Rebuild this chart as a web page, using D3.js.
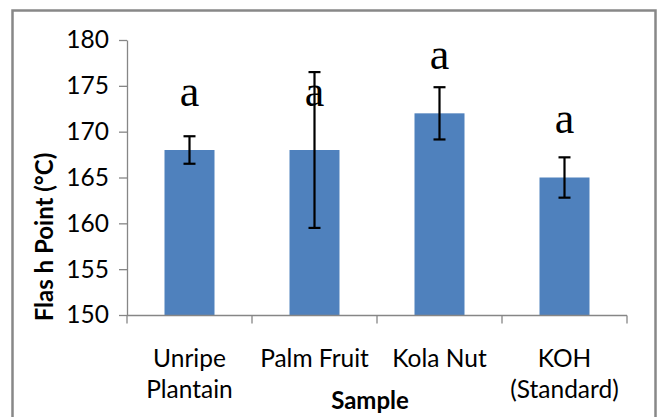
<!DOCTYPE html>
<html>
<head>
<meta charset="utf-8">
<script src="https://cdn.jsdelivr.net/npm/d3@7"></script>
<style>
  html, body { margin: 0; padding: 0; background: #fff; }
  svg { display: block; }
</style>
</head>
<body>
<svg id="chart" width="661" height="417"></svg>
<script>
// Flash point of the biodiesel samples, mean ± error
const categories = [["Unripe", "Plantain"], ["Palm Fruit"], ["Kola Nut"], ["KOH", "(Standard)"]];
const means = [168, 168, 172, 165];
const errors = [1.5, 8.5, 2.85, 2.2];
const letters = ["a", "a", "a", "a"];
const letterLevels = [172.8, 172.8, 176.8, 169.9];
const yTicks = [150, 155, 160, 165, 170, 175, 180];

const svg = d3.select("#chart");
const axisColor = "#868686";
const labelFont = "Lato, 'Open Sans', sans-serif";

// chart frame
svg.append("rect")
  .attr("x", 12.5).attr("y", 10.5)
  .attr("width", 643).attr("height", 430)
  .attr("fill", "#fff")
  .attr("stroke", "#888")
  .attr("stroke-width", 2.5);

const plot = { left: 127, right: 627, top: 40, bottom: 315 };

const x = d3.scaleBand()
  .domain(d3.range(categories.length))
  .range([plot.left, plot.right])
  .paddingInner(0.6)
  .paddingOuter(0.3);

const xBand = d3.scaleBand()
  .domain(d3.range(categories.length))
  .range([plot.left, plot.right]);

const y = d3.scaleLinear().domain([150, 180]).range([plot.bottom, plot.top]);

// bars
svg.append("g").selectAll("rect")
  .data(means)
  .join("rect")
  .attr("x", (d, i) => x(i))
  .attr("width", x.bandwidth())
  .attr("y", d => y(d))
  .attr("height", d => y(150) - y(d))
  .attr("fill", "#4f81bd");

// y axis
const yAxis = svg.append("g")
  .attr("transform", `translate(${plot.left},0)`)
  .call(d3.axisLeft(y).tickValues(yTicks).tickSize(8).tickPadding(10).tickSizeOuter(0));
yAxis.select(".domain").attr("stroke", axisColor).attr("stroke-width", 1.3);
yAxis.selectAll(".tick line").attr("stroke", axisColor).attr("stroke-width", 1.3);
yAxis.selectAll(".tick text")
  .attr("fill", "#000")
  .style("font-family", labelFont)
  .style("font-size", "24.5px");

// x axis with ticks between categories
const xAxis = svg.append("g")
  .attr("transform", `translate(0,${plot.bottom + 0.5})`);
xAxis.append("line")
  .attr("x1", plot.left).attr("x2", plot.right)
  .attr("stroke", axisColor).attr("stroke-width", 1.3);
const edges = d3.range(categories.length + 1).map(i => i < categories.length ? xBand(i) : plot.right);
xAxis.selectAll("line.tk")
  .data(edges)
  .join("line")
  .attr("class", "tk")
  .attr("x1", d => d).attr("x2", d => d)
  .attr("y1", 0).attr("y2", 8)
  .attr("stroke", axisColor).attr("stroke-width", 1.3);

// category labels
const catText = svg.append("g").selectAll("text")
  .data(categories)
  .join("text")
  .attr("x", (d, i) => xBand(i) + xBand.bandwidth() / 2)
  .attr("y", 367)
  .attr("text-anchor", "middle")
  .style("font-family", labelFont)
  .style("font-size", "24.5px")
  .attr("fill", "#000");
catText.selectAll("tspan")
  .data(d => d)
  .join("tspan")
  .attr("x", function () { return d3.select(this.parentNode).attr("x"); })
  .attr("dy", (d, i) => i === 0 ? 0 : 31)
  .text(d => d);

// error bars
const eb = svg.append("g").attr("stroke", "#000").attr("stroke-width", 2.2);
means.forEach((m, i) => {
  const cx = xBand(i) + xBand.bandwidth() / 2;
  const top = y(m + errors[i]), bot = y(m - errors[i]);
  eb.append("line").attr("x1", cx).attr("x2", cx).attr("y1", top).attr("y2", bot);
  eb.append("line").attr("x1", cx - 6).attr("x2", cx + 6).attr("y1", top).attr("y2", top);
  eb.append("line").attr("x1", cx - 6).attr("x2", cx + 6).attr("y1", bot).attr("y2", bot);
});

// significance letters
svg.append("g").selectAll("text")
  .data(letters)
  .join("text")
  .attr("x", (d, i) => xBand(i) + xBand.bandwidth() / 2)
  .attr("y", (d, i) => y(letterLevels[i]))
  .attr("text-anchor", "middle")
  .style("font-family", "'Liberation Serif', 'Times New Roman', serif")
  .style("font-size", "44px")
  .attr("fill", "#000")
  .text(d => d);

// axis titles
svg.append("text")
  .attr("transform", "translate(53,237) rotate(-90)")
  .attr("text-anchor", "middle")
  .style("font-family", labelFont)
  .style("font-weight", "bold")
  .style("font-size", "24px")
  .attr("fill", "#000")
  .text("Flas h Point (°C)");

svg.append("text")
  .attr("x", 370)
  .attr("y", 409)
  .attr("text-anchor", "middle")
  .style("font-family", labelFont)
  .style("font-weight", "bold")
  .style("font-size", "24px")
  .attr("fill", "#000")
  .text("Sample");
</script>
</body>
</html>
